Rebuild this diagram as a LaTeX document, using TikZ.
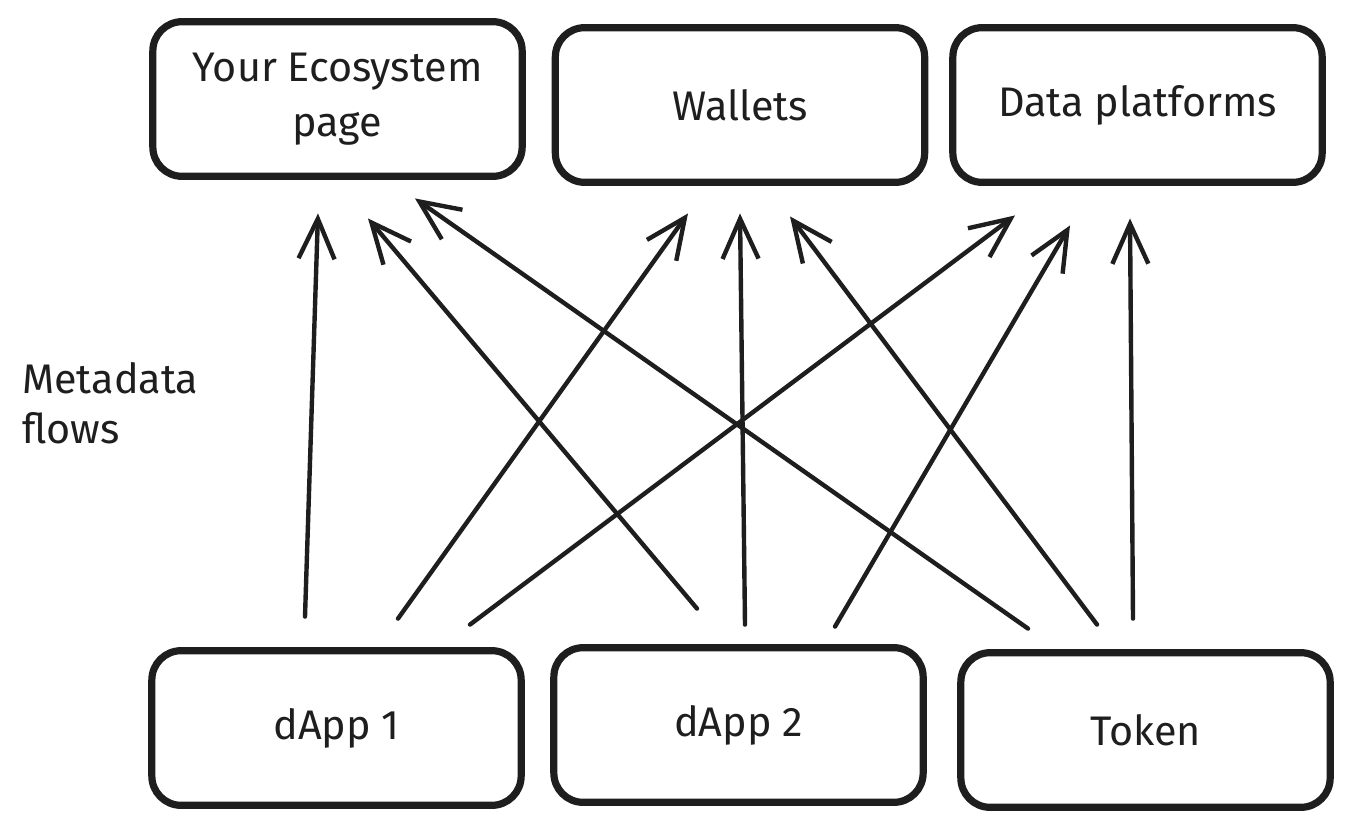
\documentclass[tikz,border=0pt]{standalone}
\usepackage{fontspec}
\setmainfont{Fira Sans}
\usetikzlibrary{arrows.meta,calc}
\definecolor{ink}{HTML}{1E1E1E}
\tikzset{
  box/.style={draw=ink, line width=5.4pt, rounded corners=22pt, minimum width=277pt, minimum height=116pt, inner sep=0pt, align=center, font=\fontsize{31}{41}\selectfont, text=ink},
  flow/.style={draw=ink, line width=3.3pt, line cap=round, -{Straight Barb[length=30pt,width=27pt,line width=3.3pt]}},
  lbl/.style={font=\fontsize{31}{38}\selectfont, text=ink, align=left, anchor=north west, inner sep=0pt}
}
\begin{document}
\begin{tikzpicture}[x=0.75pt,y=-0.75pt]
\useasboundingbox (0,0) rectangle (1352,829);
\node[box] (eco) at (337.5,99) {Your Ecosystem\\page};
\node[box] (wal) at (740,105) {Wallets};
\node[box] (dat) at (1137.5,105) {Data platforms};
\node[box] (d1) at (336.5,728) {dApp 1};
\node[box] (d2) at (738.5,725) {dApp 2};
\node[box] (tok) at (1145.5,730) {Token};
\node[lbl] (meta) at (22,362) {Metadata\\flows};
\draw[flow] ($(d1.north)+(-31.5,-30.5)$) -- ($(eco.south)+(-19.5,33.5)$);
\draw[flow] ($(d1.north)+(61.5,-28.5)$) -- ($(wal.south)+(-52,27.5)$);
\draw[flow] ($(d1.north)+(133.5,-22.5)$) -- ($(dat.south)+(-122.5,29.5)$);
\draw[flow] ($(d2.north)+(-41.5,-35.5)$) -- ($(eco.south)+(30.5,38.5)$);
\draw[flow] ($(d2.north)+(6.5,-19.5)$) -- ($(wal.south)+(0,27.5)$);
\draw[flow] ($(d2.north)+(96.5,-17.5)$) -- ($(dat.south)+(-67.5,39.5)$);
\draw[flow] ($(tok.north)+(-117.5,-20.5)$) -- ($(eco.south)+(77.5,18.5)$);
\draw[flow] ($(tok.north)+(-48.5,-24.5)$) -- ($(wal.south)+(50,30.5)$);
\draw[flow] ($(tok.north)+(-12.5,-30.5)$) -- ($(dat.south)+(-7.5,32.5)$);
\end{tikzpicture}
\end{document}
